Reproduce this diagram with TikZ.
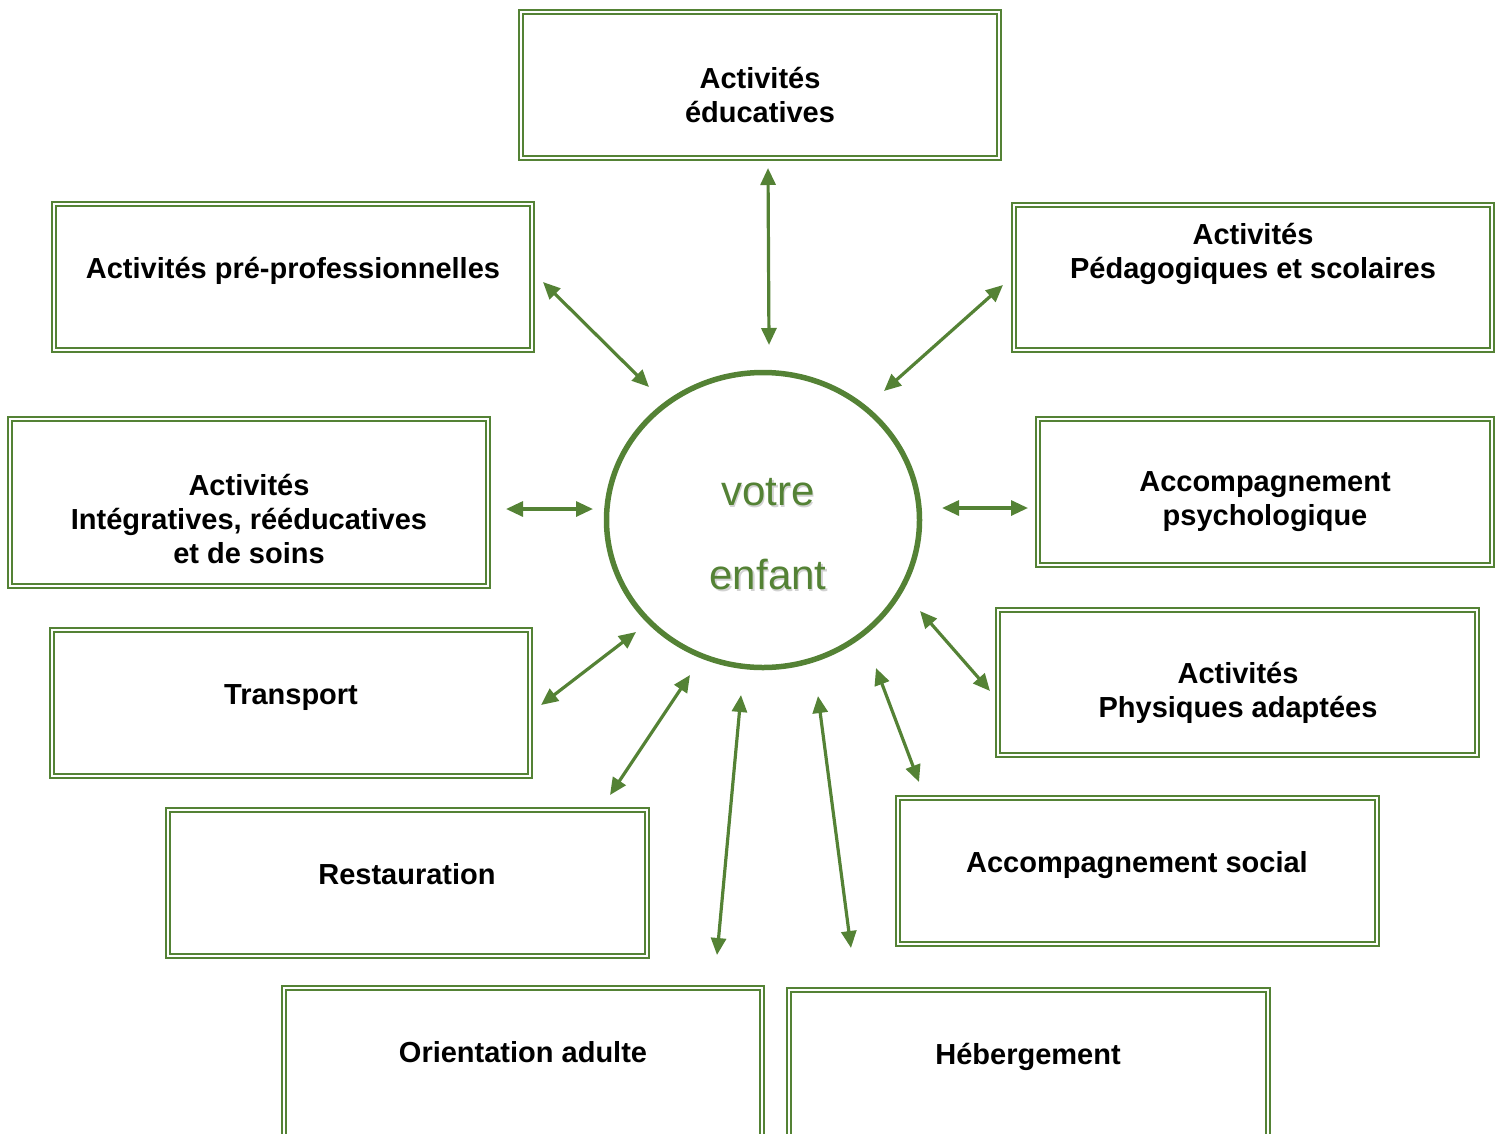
\documentclass[tikz,border=0pt]{standalone}
\usepackage{fontspec}
\setmainfont{Liberation Sans}
\usetikzlibrary{arrows.meta,shapes.geometric}
\definecolor{vgreen}{RGB}{84,130,53}
\begin{document}
\begin{tikzpicture}[x=1pt,y=-1pt,
  box/.style={draw=vgreen, double=white, double distance=2.2pt, line width=1.6pt, inner sep=0pt},
  txt/.style={font=\bfseries\fontsize{29}{34}\selectfont, align=center, inner sep=0pt},
  one/.style={text height=21pt, text depth=6pt},
  arr/.style={draw=vgreen, line width=3.2pt, {Triangle[length=17pt,width=15pt]}-{Triangle[length=17pt,width=15pt]}},
  ctext/.style={font=\fontsize{42}{84}\selectfont, align=center, inner sep=0pt}]
\useasboundingbox (0,0) rectangle (1501,1133);
\clip (0,0) rectangle (1501,1133);
% boxes
\node[box, minimum width=478pt, minimum height=146pt] (b1) at (760,85) {};
\node[box, minimum width=478pt, minimum height=146pt] (b2) at (293,277) {};
\node[box, minimum width=478pt, minimum height=145pt] (b3) at (1253,277.5) {};
\node[box, minimum width=478pt, minimum height=167pt] (b4) at (249,502.5) {};
\node[box, minimum width=454pt, minimum height=146pt] (b5) at (1265,492) {};
\node[box, minimum width=478pt, minimum height=146pt] (b6) at (291,703) {};
\node[box, minimum width=479pt, minimum height=145pt] (b7) at (1237.5,682.5) {};
\node[box, minimum width=479pt, minimum height=146pt] (b8) at (407.5,883) {};
\node[box, minimum width=479pt, minimum height=146pt] (b9) at (1137.5,871) {};
\node[box, minimum width=478pt, minimum height=170pt] (b10) at (523,1073) {};
\node[box, minimum width=479pt, minimum height=168pt] (b11) at (1028.5,1074) {};
% texts
\node[txt] (t1) at (760,95) {Activités\\éducatives};
\node[txt, one] (t2) at (293,271) {Activités pré-professionnelles};
\node[txt] (t3) at (1253,254) {Activités\\Pédagogiques et scolaires};
\node[txt] (t4) at (249,519) {Activités\\Intégratives, rééducatives\\et de soins};
\node[txt] (t5) at (1265,502) {Accompagnement\\psychologique};
\node[txt, one] (t6) at (291,697) {Transport};
\node[txt] (t7) at (1238,693) {Activités\\Physiques adaptées};
\node[txt, one] (t8) at (407,877) {Restauration};
\node[txt, one] (t9) at (1137,865) {Accompagnement social};
\node[txt, one] (t10) at (523,1055) {Orientation adulte};
\node[txt, one] (t11) at (1028,1057) {Hébergement};
% centre
\node[ellipse, draw=vgreen, line width=5.5pt, minimum width=313pt, minimum height=295pt, inner sep=0pt] (child) at (763,520) {};
\node[ctext, text=black!35, opacity=0.5] (shadow) at (769.5,536.5) {votre\\enfant};
\node[ctext, text=vgreen] (ct) at (768,534) {votre\\enfant};
% arrow endpoints
\coordinate (a1s) at (768,168);  \coordinate (a1e) at (769,345);
\coordinate (a2s) at (543,282);  \coordinate (a2e) at (649,387);
\coordinate (a3s) at (1003,285); \coordinate (a3e) at (884,391);
\coordinate (a4s) at (506,509);  \coordinate (a4e) at (593,509);
\coordinate (a5s) at (942,508);  \coordinate (a5e) at (1028,508);
\coordinate (a6s) at (541,705);  \coordinate (a6e) at (636,632);
\coordinate (a7s) at (920,611);  \coordinate (a7e) at (990,691);
\coordinate (a8s) at (610,795);  \coordinate (a8e) at (690,675);
\coordinate (a9s) at (876,668);  \coordinate (a9e) at (919,782);
\coordinate (a10s) at (741,695); \coordinate (a10e) at (717,955);
\coordinate (a11s) at (818,696); \coordinate (a11e) at (851,948);
\foreach \i in {1,...,11} {\draw[arr] (a\i s) -- (a\i e);}
\end{tikzpicture}
\end{document}
